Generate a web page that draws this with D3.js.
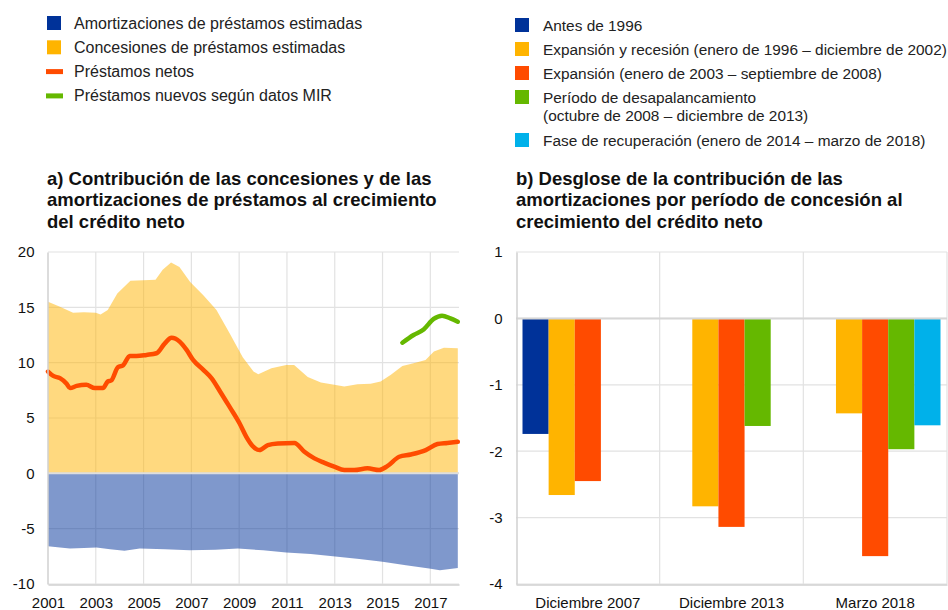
<!DOCTYPE html>
<html>
<head>
<meta charset="utf-8">
<script src="https://cdn.jsdelivr.net/npm/d3@7"></script>
<style>
  body { margin: 0; background: #fff; }
  svg { font-family: "Liberation Sans", Arial, sans-serif; }
</style>
</head>
<body>
<svg></svg>
<script>
// ---- panel a: [year, value]
const concesiones = [[2001.0,15.5],[2001.5,15.05],[2002.05,14.5],[2002.5,14.55],[2003.0,14.5],[2003.2,14.35],
  [2003.5,14.75],[2003.9,16.25],[2004.45,17.4],[2005.0,17.45],[2005.5,17.5],[2005.8,18.4],[2006.15,19.05],
  [2006.5,18.65],[2006.95,17.3],[2007.5,16.1],[2008.05,14.75],[2008.6,12.65],[2009.15,10.5],[2009.6,9.2],
  [2009.8,8.95],[2010.35,9.5],[2010.97,9.8],[2011.3,9.8],[2011.87,8.7],[2012.42,8.2],[2012.98,8.0],
  [2013.4,7.85],[2013.95,8.05],[2014.5,8.1],[2014.92,8.3],[2015.35,8.9],[2015.83,9.7],[2016.3,9.95],
  [2016.8,10.25],[2017.15,11.0],[2017.57,11.35],[2018.15,11.3]];

const amortizaciones = [[2001.0,-6.6],[2001.5,-6.7],[2001.92,-6.8],[2002.5,-6.75],[2003.03,-6.7],[2003.6,-6.85],
  [2004.2,-7.0],[2004.84,-6.8],[2005.9,-6.85],[2006.93,-6.95],[2008.0,-6.9],[2008.95,-6.8],[2010.0,-6.95],
  [2010.97,-7.15],[2012.0,-7.3],[2012.92,-7.5],[2014.03,-7.75],[2015.0,-8.0],[2015.98,-8.3],[2016.95,-8.6],
  [2017.4,-8.75],[2018.15,-8.55]];

const netos = [[2001.0,9.2],[2001.22,8.8],[2001.5,8.6],[2001.78,8.1],[2001.92,7.7],[2002.2,7.9],[2002.6,8.0],
  [2002.96,7.7],[2003.3,7.7],[2003.5,8.3],[2003.65,8.4],[2003.93,9.6],[2004.14,9.75],[2004.42,10.6],[2004.7,10.6],
  [2005.12,10.7],[2005.54,10.85],[2005.89,11.75],[2006.17,12.25],[2006.51,11.9],[2006.8,11.15],[2007.07,10.25],
  [2007.5,9.35],[2007.84,8.6],[2008.2,7.4],[2008.6,6.0],[2009.02,4.5],[2009.3,3.3],[2009.55,2.5],[2009.85,2.1],
  [2010.2,2.55],[2010.62,2.7],[2011.31,2.75],[2011.73,1.95],[2012.15,1.35],[2012.57,0.95],[2012.98,0.6],
  [2013.4,0.3],[2013.82,0.3],[2014.37,0.45],[2014.86,0.3],[2015.2,0.65],[2015.7,1.5],[2016.18,1.7],
  [2016.81,2.1],[2017.3,2.65],[2017.71,2.75],[2018.15,2.85]];

const nuevosMIR = [[2015.83,11.8],[2016.3,12.5],[2016.72,13.0],[2017.14,13.95],[2017.49,14.25],[2017.84,14.0],[2018.15,13.7]];

const yearTicks = [2001,2003,2005,2007,2009,2011,2013,2015,2017];
const ticksA = [-10,-5,0,5,10,15,20];

// ---- panel b
const periodos = ["Diciembre 2007","Diciembre 2013","Marzo 2018"];
const tramos = ["Antes de 1996","Expansión y recesión (enero de 1996 – diciembre de 2002)",
  "Expansión (enero de 2003 – septiembre de 2008)",
  "Período de desapalancamiento|(octubre de 2008 – diciembre de 2013)",
  "Fase de recuperación (enero de 2014 – marzo de 2018)"];
const antes1996    = [-1.74, null, null];
const expRecesion  = [-2.66, -2.83, -1.43];
const expansion    = [-2.45, -3.14, -3.58];
const desapal      = [null, -1.62, -1.97];
const recuperacion = [null, null, -1.61];
const ticksB = [-4,-3,-2,-1,0,1];

const colores = ["#003299","#ffb400","#ff4b00","#65b800","#00b1ea"];

const w = 948, h = 610;
const svg = d3.select("svg").attr("width", w).attr("height", h);

// ---------------- legends
const legA = [["Amortizaciones de préstamos estimadas","box",colores[0]],
  ["Concesiones de préstamos estimadas","box",colores[1]],
  ["Préstamos netos","line",colores[2]],
  ["Préstamos nuevos según datos MIR","line",colores[3]]];
legA.forEach(function(d, i){
  const cy = 23 + i*24.3;
  if (d[1] == "box") {
    svg.append("rect").attr("x",47).attr("y",cy-7).attr("width",14).attr("height",14).attr("fill",d[2]);
  } else {
    svg.append("rect").attr("x",46).attr("y",cy-2.5).attr("width",17).attr("height",5).attr("fill",d[2]);
  }
  svg.append("text").attr("x",74).attr("y",cy+5.5).attr("font-size",16).attr("fill","#222").text(d[0]);
});

const legBy = [25, 49, 73, 97, 140];
tramos.forEach(function(t, i){
  const cy = legBy[i];
  svg.append("rect").attr("x",515).attr("y",cy-7).attr("width",14).attr("height",14).attr("fill",colores[i]);
  t.split("|").forEach(function(line, j){
    svg.append("text").attr("x",543).attr("y",cy+5.5+j*18.5).attr("font-size",15.4).attr("fill","#222").text(line);
  });
});

// ---------------- titles
function title(x, lines){
  lines.forEach(function(l, i){
    svg.append("text").attr("x",x).attr("y",184.5+i*21.6).attr("font-size",18.5)
      .attr("font-weight","bold").attr("fill","#111").text(l);
  });
}
title(47, ["a) Contribución de las concesiones y de las","amortizaciones de préstamos al crecimiento","del crédito neto"]);
title(516, ["b) Desglose de la contribución de las","amortizaciones por período de concesión al","crecimiento del crédito neto"]);

// ---------------- panel a
const xA = d3.scaleLinear().domain([2001, 2018.2]).range([48, 459]);
const yA = d3.scaleLinear().domain([-10, 20]).range([584, 252]);

const gA = svg.append("g");
gA.selectAll(".hg").data(ticksA).enter().append("line")
  .attr("x1",xA(2001)).attr("x2",xA.range()[1]).attr("y1",d=>yA(d)).attr("y2",d=>yA(d))
  .attr("stroke","#e2e2e2").attr("stroke-width",1.2);
gA.selectAll(".vg").data(yearTicks.slice(1)).enter().append("line")
  .attr("x1",d=>xA(d)).attr("x2",d=>xA(d)).attr("y1",yA(20)).attr("y2",yA(-10))
  .attr("stroke","#e2e2e2").attr("stroke-width",1.2);

const area = d3.area().x(d=>xA(d[0])).y0(yA(0)).y1(d=>yA(d[1]));
gA.append("path").datum(concesiones).attr("d",area).attr("fill","#ffb400").attr("fill-opacity",0.5);
gA.append("path").datum(amortizaciones).attr("d",area).attr("fill","#003299").attr("fill-opacity",0.5);

gA.append("line").attr("x1",xA(2001)).attr("x2",xA.range()[1]).attr("y1",yA(0)).attr("y2",yA(0))
  .attr("stroke","#dedede").attr("stroke-width",2);

const line = d3.line().x(d=>xA(d[0])).y(d=>yA(d[1])).curve(d3.curveMonotoneX);
gA.append("path").datum(netos).attr("d",line).attr("fill","none").attr("stroke",colores[2])
  .attr("stroke-width",4.5).attr("stroke-linecap","round").attr("stroke-linejoin","round");
gA.append("path").datum(nuevosMIR).attr("d",line).attr("fill","none").attr("stroke",colores[3])
  .attr("stroke-width",4.5).attr("stroke-linecap","round").attr("stroke-linejoin","round");

const axA = gA.append("g").attr("transform","translate(47.5,0)")
  .call(d3.axisLeft(yA).tickValues(ticksA).tickSize(0).tickPadding(13).tickFormat(d=>String(d)));
const axAx = gA.append("g").attr("transform","translate(0,584.5)")
  .call(d3.axisBottom(xA).tickValues(yearTicks).tickSize(0).tickPadding(13).tickFormat(d=>String(d)));
[axA, axAx].forEach(function(a){
  a.select(".domain").attr("stroke","#d0d0d0").attr("stroke-width",1.5);
  a.selectAll("text").attr("font-size",15).attr("fill","#111").attr("font-family","Liberation Sans, Arial, sans-serif");
});

// ---------------- panel b
const x0 = d3.scaleBand().domain(periodos).range([516, 947]);
const x1 = d3.scaleBand().domain(d3.range(5)).range([6.5, x0.bandwidth()-6.5]);
const yB = d3.scaleLinear().domain([-4, 1]).range([584, 252]);
const gB = svg.append("g");

gB.selectAll(".hg").data(ticksB).enter().append("line")
  .attr("x1",516).attr("x2",947).attr("y1",d=>yB(d)).attr("y2",d=>yB(d))
  .attr("stroke","#e2e2e2").attr("stroke-width",1.2);
gB.selectAll(".vg").data(periodos).enter().append("line")
  .attr("x1",d=>x0(d)+x0.bandwidth()).attr("x2",d=>x0(d)+x0.bandwidth()).attr("y1",yB(1)).attr("y2",yB(-4))
  .attr("stroke","#e2e2e2").attr("stroke-width",1.2);

const series = [antes1996, expRecesion, expansion, desapal, recuperacion];
series.forEach(function(vals, s){
  const bars = periodos.map((p, i) => [p, vals[i]]).filter(d => d[1] != null);
  gB.selectAll(".b"+s).data(bars).enter().append("rect")
    .attr("x",d=>x0(d[0])+x1(s)).attr("width",x1.bandwidth())
    .attr("y",d=>yB(Math.max(0,d[1]))).attr("height",d=>Math.abs(yB(d[1])-yB(0)))
    .attr("fill",colores[s]);
});

gB.append("line").attr("x1",516).attr("x2",947).attr("y1",yB(0)).attr("y2",yB(0))
  .attr("stroke","#d6d6d6").attr("stroke-width",2);

const axB = gB.append("g").attr("transform","translate(516.5,0)")
  .call(d3.axisLeft(yB).tickValues(ticksB).tickSize(0).tickPadding(14).tickFormat(d=>String(d)));
const axBx = gB.append("g").attr("transform","translate(0,584.5)")
  .call(d3.axisBottom(x0).tickSize(0).tickPadding(13));
[axB, axBx].forEach(function(a){
  a.select(".domain").attr("stroke","#d0d0d0").attr("stroke-width",1.5);
  a.selectAll("text").attr("font-size",15).attr("fill","#111").attr("font-family","Liberation Sans, Arial, sans-serif");
});
</script>
</body>
</html>
